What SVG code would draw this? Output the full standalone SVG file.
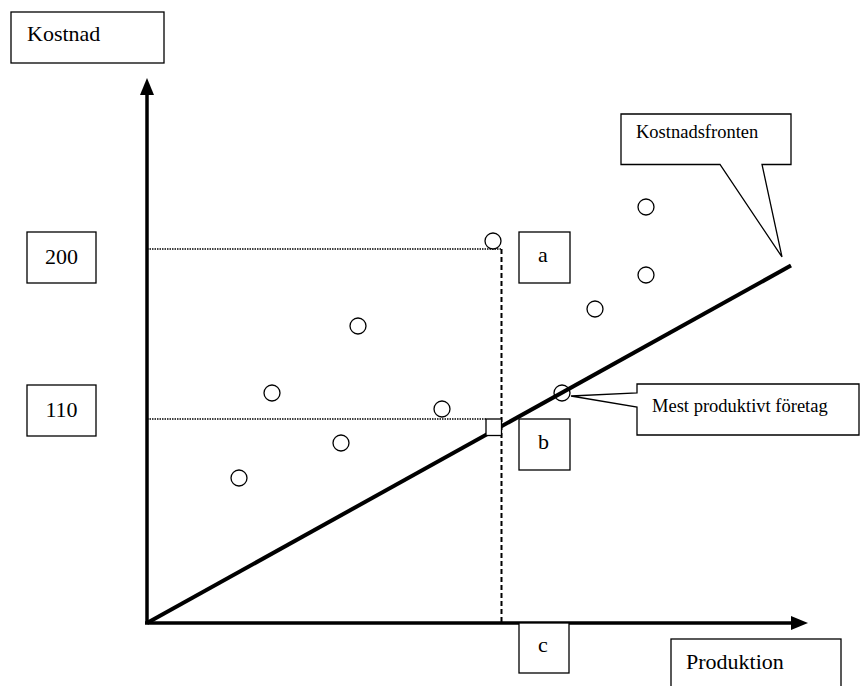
<svg xmlns="http://www.w3.org/2000/svg" width="866" height="686" viewBox="0 0 866 686">
<defs>
<style>
.box{fill:#fff;stroke:#000;stroke-width:1.3}
.t{font-family:"Liberation Serif","Times New Roman",serif;fill:#000}
.big{font-size:22px}
.sm{font-size:18.5px}
.pt{fill:#fff;stroke:#000;stroke-width:1.3}
</style>
</defs>
<rect width="866" height="686" fill="#fff"/>
<g id="connectors">
<line x1="147" y1="249" x2="501" y2="249" stroke="#000" stroke-width="1.6" stroke-dasharray="1.5,1"/>
<line x1="147" y1="419" x2="486" y2="419" stroke="#000" stroke-width="1.6" stroke-dasharray="1.5,1"/>
<line x1="501.5" y1="249" x2="501.5" y2="623" stroke="#000" stroke-width="2" stroke-dasharray="5,3"/>
<line id="frontier" x1="147" y1="623" x2="791" y2="265.5" stroke="#000" stroke-width="4"/>
<line id="yaxis" x1="147" y1="624" x2="147" y2="92" stroke="#000" stroke-width="3.5"/>
<polygon points="147,78 140,95 154,95" fill="#000"/>
<line id="xaxis" x1="145" y1="623" x2="795" y2="623" stroke="#000" stroke-width="3.5"/>
<polygon points="808,623 791,616 791,630" fill="#000"/>
</g>
<g id="square"><rect x="486" y="419" width="15.5" height="16.5" class="box"/></g>
<g id="points">
<circle cx="493" cy="241" r="8" class="pt"/>
<circle cx="646" cy="207" r="8" class="pt"/>
<circle cx="646" cy="275" r="8" class="pt"/>
<circle cx="595" cy="309" r="8" class="pt"/>
<circle cx="358" cy="326" r="8" class="pt"/>
<circle cx="272" cy="393" r="8" class="pt"/>
<circle cx="562" cy="393" r="8" class="pt" style="fill:none"/>
<circle cx="442" cy="409" r="8" class="pt"/>
<circle cx="341" cy="443" r="8" class="pt"/>
<circle cx="239" cy="478" r="8" class="pt"/>
</g>
<g id="kostnad"><rect x="11" y="12" width="153" height="51" class="box"/><text x="27" y="41" class="t big">Kostnad</text></g>
<g id="v200"><rect x="27" y="232" width="69" height="51" class="box"/><text x="61.5" y="264" class="t big" text-anchor="middle">200</text></g>
<g id="v110"><rect x="27" y="385" width="69" height="51" class="box"/><text x="61.5" y="417" class="t big" text-anchor="middle">110</text></g>
<g id="a"><rect x="519" y="232" width="51" height="51" class="box"/><text x="538" y="262" class="t big">a</text></g>
<g id="b"><rect x="519" y="419" width="51" height="51" class="box"/><text x="538" y="449" class="t big">b</text></g>
<g id="c"><rect x="519" y="623" width="50" height="50" class="box"/><text x="538" y="652" class="t big">c</text></g>
<g id="produktion"><rect x="671" y="639" width="170" height="60" class="box"/><text x="686" y="669" class="t big">Produktion</text></g>
<g id="kostnadsfronten"><path d="M621,114 H791 V164.5 H762 L782,257 L720,164.5 H621 Z" class="box"/><text x="636" y="138" class="t sm">Kostnadsfronten</text></g>
<g id="mest"><path d="M637,384 H859 V435 H637 V407 L571,396 L637,393 Z" class="box"/><text x="652" y="412" class="t sm">Mest produktivt företag</text></g>
</svg>
